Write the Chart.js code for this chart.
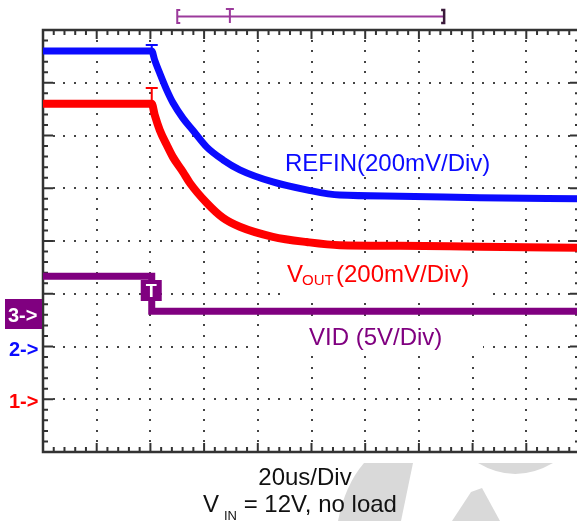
<!DOCTYPE html>
<html>
<head>
<meta charset="utf-8">
<script src="https://cdn.jsdelivr.net/npm/chart.js@4.4.1/dist/chart.umd.min.js"></script>
<style>
  html, body { margin: 0; padding: 0; background: #fff; overflow: hidden; }
  #scope { display: block; }
</style>
</head>
<body>
<canvas id="scope" width="581" height="521"></canvas>
<script>
// time in us (20us/div, trigger at 0), level in screen divisions (0 = bottom, 8 = top)
const refinTime  = [-40, 0.5, 1.6, 3.5, 6.1, 8.4, 12.1, 15.8, 21.0, 27.0, 33.3, 45.6, 58.2, 70.5, 92.9, 122.7, 160];
const refinLevel = [7.60, 7.60, 7.43, 7.18, 6.86, 6.62, 6.33, 6.10, 5.78, 5.54, 5.35, 5.12, 4.97, 4.87, 4.85, 4.82, 4.80];

const voutTime  = [-40, 0.5, 1.6, 3.5, 6.1, 8.4, 12.1, 14.7, 21.0, 27.0, 33.3, 45.6, 58.2, 70.5, 92.9, 122.7, 160];
const voutLevel = [6.60, 6.60, 6.39, 6.10, 5.82, 5.59, 5.31, 5.10, 4.72, 4.44, 4.27, 4.08, 3.98, 3.92, 3.91, 3.89, 3.87];

const vidTime  = [-40, 0.5, 0.5, 160];
const vidLevel = [3.33, 3.33, 2.67, 2.67];

const xDivs = [-40, -20, 0, 20, 40, 60, 80, 100, 120, 140, 160];
const yDivs = [0, 1, 2, 3, 4, 5, 6, 7, 8];

const BLUE = "#0b0bff";
const RED = "#ff0000";
const PURPLE = "#800080";
const FONT = '"Liberation Sans", Arial, sans-serif';

function pts(t, v) {
  return t.map((tt, i) => ({ x: tt, y: v[i] }));
}

// light grey watermark pieces at the bottom
function drawWatermark(ctx) {
  ctx.save();
  ctx.fillStyle = "#d9d9d9";
  ctx.beginPath();
  ctx.moveTo(364, 463);
  ctx.lineTo(413, 463);
  ctx.lineTo(401, 521);
  ctx.lineTo(338, 521);
  ctx.quadraticCurveTo(345, 485, 364, 463);
  ctx.fill();

  ctx.beginPath();
  ctx.moveTo(478, 463);
  ctx.lineTo(553, 463);
  ctx.quadraticCurveTo(515, 485, 478, 463);
  ctx.fill();

  ctx.beginPath();
  ctx.moveTo(471, 492);
  ctx.lineTo(482, 488);
  ctx.lineTo(500, 521);
  ctx.lineTo(452, 521);
  ctx.fill();
  ctx.restore();
}

const graticule = {
  id: "graticule",
  beforeDraw(chart) {
    drawWatermark(chart.ctx);
  },
  beforeDatasetsDraw(chart) {
    const { ctx, chartArea: a, scales: { x, y } } = chart;
    const dx = (a.right - a.left) / 50;
    const dy = (a.bottom - a.top) / 40;
    ctx.save();

    // dotted graticule
    ctx.fillStyle = "#444";
    xDivs.slice(1, -1).forEach((t) => {
      const px = Math.round(x.getPixelForValue(t));
      for (let j = 1; j < 40; j++) {
        ctx.fillRect(px - 1, Math.round(a.top + j * dy) - 1, 2, 2);
      }
    });
    yDivs.slice(1, -1).forEach((d) => {
      const py = Math.round(y.getPixelForValue(d));
      for (let i = 1; i < 50; i++) {
        ctx.fillRect(Math.round(a.left + i * dx) - 1, py - 1, 2, 2);
      }
    });

    // frame
    ctx.strokeStyle = "#333";
    ctx.lineWidth = 2.5;
    ctx.strokeRect(a.left, a.top, a.right - a.left, a.bottom - a.top);

    // ticks, 5 per division
    ctx.lineWidth = 2;
    ctx.beginPath();
    for (let i = 1; i < 50; i++) {
      const px = a.left + i * dx;
      const len = i % 5 === 0 ? 9 : 5;
      ctx.moveTo(px, a.top); ctx.lineTo(px, a.top + len);
      ctx.moveTo(px, a.bottom); ctx.lineTo(px, a.bottom - len);
    }
    for (let j = 1; j < 40; j++) {
      const py = a.top + j * dy;
      const len = j % 5 === 0 ? 10 : 5;
      ctx.moveTo(a.left, py); ctx.lineTo(a.left + len, py);
      ctx.moveTo(a.right, py); ctx.lineTo(a.right - len, py);
    }
    ctx.stroke();
    ctx.restore();
  },
  afterDatasetsDraw(chart) {
    const { ctx, scales: { x, y } } = chart;
    ctx.save();
    const tx = x.getPixelForValue(0.5);

    // trigger marks on traces
    ctx.lineWidth = 2;
    [[BLUE, refinLevel[0], 45], [RED, voutLevel[0], 88]].forEach(([c, lvl, top]) => {
      ctx.strokeStyle = c;
      ctx.beginPath();
      ctx.moveTo(tx - 6, top); ctx.lineTo(tx + 6, top);
      ctx.moveTo(tx, top); ctx.lineTo(tx, y.getPixelForValue(lvl));
      ctx.stroke();
    });

    // VID trigger box
    ctx.fillStyle = PURPLE;
    ctx.fillRect(tx - 11, 280, 21, 21);
    ctx.fillStyle = "#fff";
    ctx.font = "bold 18px " + FONT;
    ctx.textAlign = "center";
    ctx.textBaseline = "alphabetic";
    ctx.fillText("T", tx - 0.5, 297);

    // trace labels on white boxes
    ctx.textAlign = "left";
    ctx.fillStyle = "#fff";
    ctx.fillRect(280, 150, 216, 27);
    ctx.fillRect(280, 257, 213, 40);
    ctx.fillRect(268, 324, 215, 28);

    ctx.font = "24px " + FONT;
    ctx.fillStyle = BLUE;
    ctx.fillText("REFIN(200mV/Div)", 285, 171);

    ctx.fillStyle = RED;
    ctx.fillText("V", 287, 282);
    ctx.font = "15px " + FONT;
    ctx.fillText("OUT", 302, 285);
    ctx.font = "24px " + FONT;
    ctx.fillText("(200mV/Div)", 336, 282);

    ctx.fillStyle = PURPLE;
    ctx.fillText("VID (5V/Div)", 309, 345);

    // channel ground markers
    ctx.fillStyle = PURPLE;
    ctx.fillRect(5, 299, 37, 30);
    ctx.font = "bold 20px " + FONT;
    ctx.fillStyle = "#fff";
    ctx.fillText("3->", 8, 322);
    ctx.fillStyle = BLUE;
    ctx.fillText("2->", 9, 356);
    ctx.fillStyle = RED;
    ctx.fillText("1->", 9, 408);
    ctx.restore();
  },
  afterDraw(chart) {
    const { ctx, chartArea: a } = chart;
    const w = a.right - a.left;
    const x0 = a.left + 0.25 * w;
    const x1 = a.left + 0.747 * w;
    const xt = a.left + 0.348 * w;
    ctx.save();

    // memory window bar at the top
    ctx.strokeStyle = "#9b3a9b";
    ctx.lineWidth = 2;
    ctx.beginPath();
    ctx.moveTo(x0, 16.5); ctx.lineTo(x1, 16.5);
    ctx.moveTo(x0 + 3, 10); ctx.lineTo(x0, 10); ctx.lineTo(x0, 23); ctx.lineTo(x0 + 3, 23);
    ctx.moveTo(xt - 4, 9); ctx.lineTo(xt + 4, 9);
    ctx.moveTo(xt, 9); ctx.lineTo(xt, 23);
    ctx.stroke();
    ctx.strokeStyle = "#3a1a3a";
    ctx.lineWidth = 2.5;
    ctx.beginPath();
    ctx.moveTo(x1 - 3, 10); ctx.lineTo(x1, 10); ctx.lineTo(x1, 23); ctx.lineTo(x1 - 3, 23);
    ctx.stroke();

    // bottom captions
    ctx.fillStyle = "#111";
    ctx.font = "24px " + FONT;
    ctx.textAlign = "center";
    ctx.fillText("20us/Div", 305, 485);
    ctx.textAlign = "left";
    ctx.fillText("V", 203, 512);
    ctx.font = "13px " + FONT;
    ctx.fillText("IN", 224, 520);
    ctx.font = "24px " + FONT;
    ctx.fillText(" = 12V, no load", 237, 512);
    ctx.restore();
  }
};

new Chart(document.getElementById("scope"), {
  type: "line",
  data: {
    datasets: [
      {
        label: "REFIN",
        data: pts(refinTime, refinLevel),
        borderColor: BLUE,
        borderWidth: 7,
        cubicInterpolationMode: "monotone",
        pointRadius: 0,
      },
      {
        label: "VOUT",
        data: pts(voutTime, voutLevel),
        borderColor: RED,
        borderWidth: 8,
        cubicInterpolationMode: "monotone",
        pointRadius: 0,
      },
      {
        label: "VID",
        data: pts(vidTime, vidLevel),
        borderColor: PURPLE,
        borderWidth: 7,
        tension: 0,
        pointRadius: 0,
      },
    ],
  },
  options: {
    responsive: false,
    animation: false,
    devicePixelRatio: 1,
    layout: { padding: { left: 43, top: 30, right: 1, bottom: 69 } },
    plugins: { legend: { display: false }, tooltip: { enabled: false } },
    scales: {
      x: { type: "linear", min: -40, max: 160, display: false },
      y: { type: "linear", min: 0, max: 8, display: false },
    },
  },
  plugins: [graticule],
});
</script>
</body>
</html>
